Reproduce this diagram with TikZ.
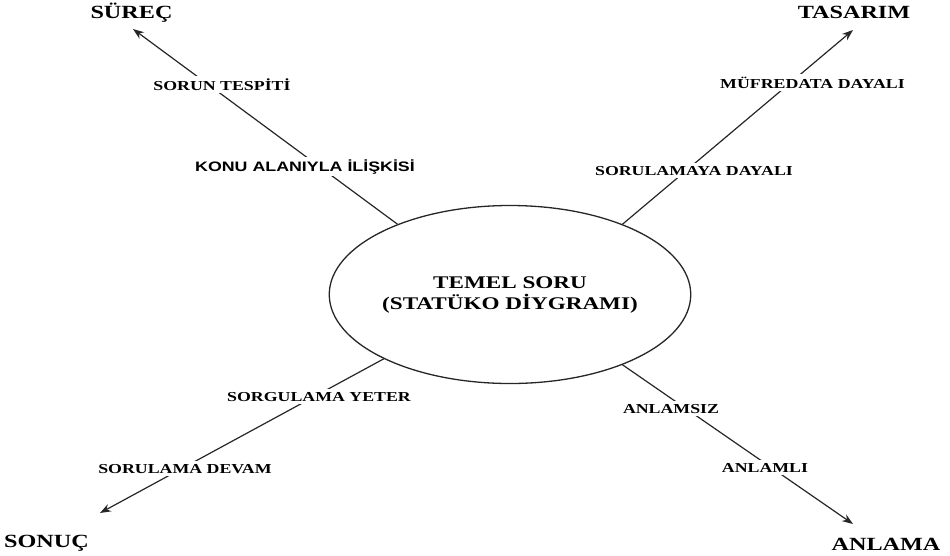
\documentclass[tikz,border=0pt]{standalone}
\usepackage{fontspec}
\setmainfont{Liberation Serif}
% wide faces for the caps labels
\newfontfamily\labserif[FakeStretch=1.3]{Liberation Serif}
\newfontfamily\labsans[FakeStretch=1.3]{Liberation Sans}
\usetikzlibrary{shapes.geometric,arrows.meta}

\begin{document}
\begin{tikzpicture}[x=1pt,y=-1pt,
  core/.style={ellipse, draw=black!85, line width=1.3pt,
    minimum width=286pt, minimum height=178pt, inner sep=0pt,
    align=center, font=\labserif\bfseries\fontsize{17.8}{21}\selectfont},
  branch/.style={draw=black!85, line width=1.2pt,
    -{Stealth[length=11pt,width=8pt]}},
  goal/.style={anchor=base, inner sep=0pt,
    font=\labserif\bfseries\fontsize{18.6}{20}\selectfont},
  tag/.style={anchor=base, fill=white, inner xsep=2pt, inner ysep=2.5pt,
    font=\labserif\bfseries\fontsize{13.7}{15}\selectfont},
]
\useasboundingbox (0,0) rectangle (950,555);

% central question
\node[core] (core) at (510,294.5) {TEMEL SORU\\(STATÜKO DİYGRAMI)};

% arrow ends
\coordinate (tipSurec)   at (133,29);
\coordinate (tipTasarim) at (853,30);
\coordinate (tipSonuc)   at (100,513);
\coordinate (tipAnlama)  at (853,524);

% branches
\draw[branch] (core.148.3) -- (tipSurec);
\draw[branch] (core.32.1)  -- (tipTasarim);
\draw[branch] (core.207.8) -- (tipSonuc);
\draw[branch] (core.328.1) -- (tipAnlama);

% end labels
\node[goal] (surec)   at (131.5,18)  {SÜREÇ};
\node[goal] (tasarim) at (854,18)    {TASARIM};
\node[goal] (sonuc)   at (46.5,547)  {SONUÇ};
\node[goal] (anlama)  at (886,550.5) {ANLAMA};

% branch labels
\node[tag] (tespit)   at (222,90)   {SORUN TESPİTİ};
\node[tag, font=\labsans\bfseries\fontsize{13.7}{15}\selectfont]
            (konu)    at (305,171)  {KONU ALANIYLA İLİŞKİSİ};
\node[tag] (mufredat) at (812.5,88) {MÜFREDATA DAYALI};
\node[tag] (sorulama) at (694,175)  {SORULAMAYA DAYALI};
\node[tag] (yeter)    at (319,401)  {SORGULAMA YETER};
\node[tag] (devam)    at (185,473)  {SORULAMA DEVAM};
\node[tag] (anlamsiz) at (671,413)  {ANLAMSIZ};
\node[tag] (anlamli)  at (765,472)  {ANLAMLI};
\end{tikzpicture}
\end{document}
